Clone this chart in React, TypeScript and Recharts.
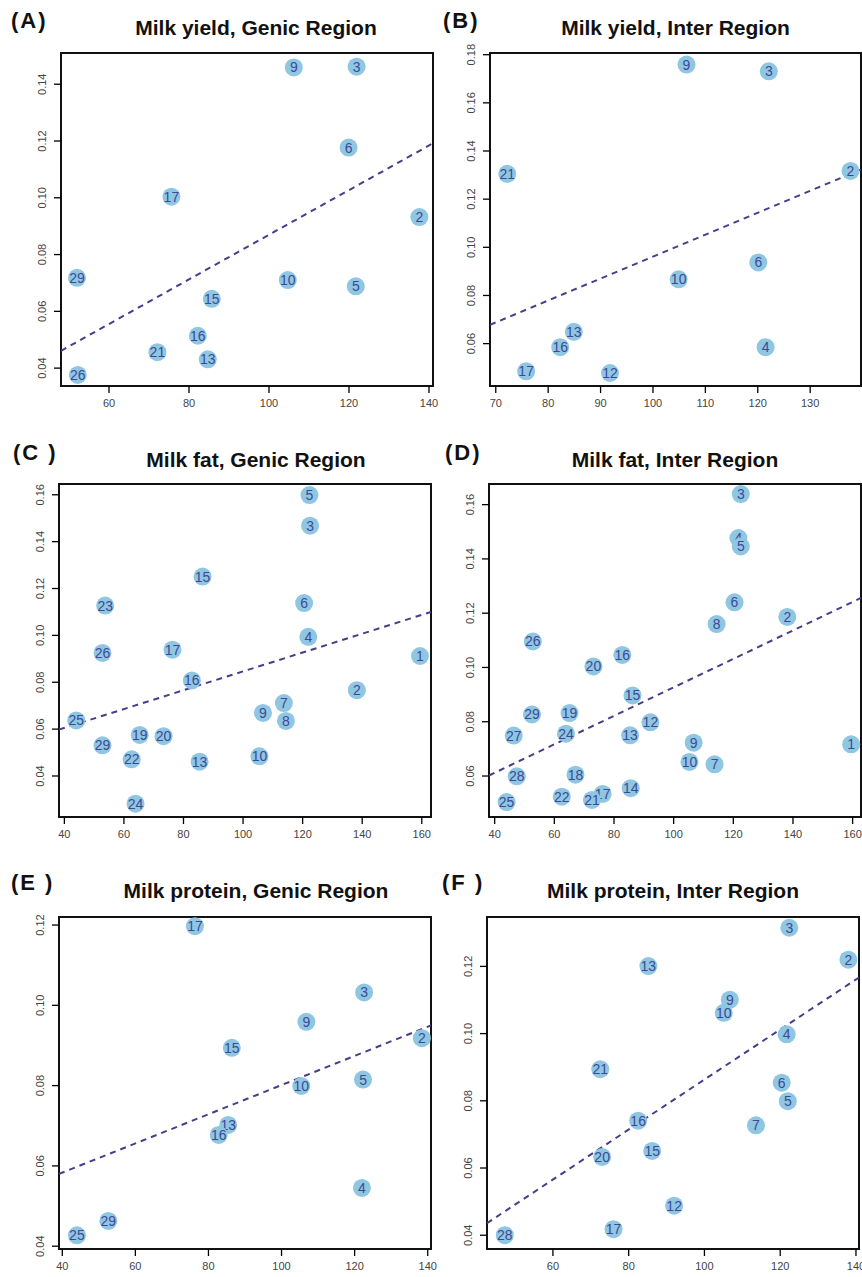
import React from 'react'
import { ScatterChart, Scatter, XAxis, YAxis, ReferenceLine, ReferenceArea } from 'recharts'

// ---- data ----
// each point: x (left axis value), y, id label

const yieldGenicIds = [9, 3, 6, 17, 2, 29, 10, 5, 15, 16, 21, 13, 26]
const yieldGenicX = [106.2, 121.9, 119.9, 75.6, 137.6, 52.0, 104.7, 121.7, 85.7, 82.2, 72.1, 84.7, 52.2]
const yieldGenicY = [0.1459, 0.1462, 0.1177, 0.1004, 0.0932, 0.0718, 0.071, 0.0688, 0.0644, 0.0514, 0.0456, 0.0431, 0.0376]
const yieldGenicFit = [[48, 0.0461], [141, 0.1192]]

const yieldInterIds = [9, 3, 21, 2, 6, 10, 13, 16, 4, 17, 12]
const yieldInterX = [106.4, 122.1, 72.2, 137.7, 120.1, 104.9, 84.9, 82.3, 121.5, 75.8, 91.8]
const yieldInterY = [0.1759, 0.1731, 0.1305, 0.1317, 0.0937, 0.0867, 0.0649, 0.0585, 0.0585, 0.0485, 0.0478]
const yieldInterFit = [[68.9, 0.0678], [139.7, 0.1323]]

const fatGenicIds = [5, 3, 15, 23, 6, 4, 26, 17, 1, 16, 2, 7, 9, 8, 25, 19, 20, 29, 22, 13, 10, 24]
const fatGenicX = [122.3, 122.5, 86.4, 53.7, 120.5, 121.9, 52.8, 76.3, 159.4, 82.8, 138.2, 113.7, 106.7, 114.4, 44.0, 65.3, 73.3, 52.8, 62.6, 85.4, 105.5, 63.9]
const fatGenicY = [0.1599, 0.1468, 0.1251, 0.1127, 0.1138, 0.0994, 0.0925, 0.0939, 0.0912, 0.0808, 0.0766, 0.0711, 0.0669, 0.0635, 0.0637, 0.0575, 0.057, 0.0531, 0.0471, 0.0461, 0.0484, 0.0282]
const fatGenicFit = [[38.2, 0.0598], [163.1, 0.11]]

const fatInterIds = [3, 4, 5, 6, 2, 8, 26, 16, 20, 15, 29, 19, 12, 27, 24, 13, 9, 1, 10, 7, 28, 18, 14, 22, 17, 21, 25]
const fatInterX = [122.5, 121.7, 122.5, 120.4, 138.1, 114.4, 52.8, 82.8, 73.1, 86.2, 52.5, 65.1, 92.2, 46.4, 63.9, 85.4, 106.7, 159.5, 105.3, 113.7, 47.4, 67.1, 85.6, 62.5, 76.2, 72.6, 44.0]
const fatInterY = [0.1639, 0.1477, 0.1446, 0.124, 0.1186, 0.116, 0.1096, 0.1046, 0.1004, 0.0897, 0.0827, 0.0832, 0.0798, 0.0749, 0.0756, 0.075, 0.0723, 0.0717, 0.0652, 0.0643, 0.0599, 0.0605, 0.0555, 0.0524, 0.0534, 0.0512, 0.0504]
const fatInterFit = [[38.1, 0.0602], [162.8, 0.1256]]

const proteinGenicIds = [17, 3, 9, 15, 2, 5, 10, 13, 16, 4, 29, 25]
const proteinGenicX = [76.3, 122.6, 106.8, 86.4, 138.4, 122.3, 105.4, 85.4, 82.8, 122.0, 52.6, 44.0]
const proteinGenicY = [0.1197, 0.1032, 0.0959, 0.0894, 0.0918, 0.0815, 0.0799, 0.0702, 0.0677, 0.0545, 0.0463, 0.0427]
const proteinGenicFit = [[39.1, 0.058], [140.9, 0.095]]

const proteinInterIds = [3, 2, 13, 9, 10, 4, 21, 6, 5, 16, 7, 15, 20, 12, 17, 28]
const proteinInterX = [122.4, 138.0, 85.2, 106.7, 105.1, 121.7, 72.5, 120.4, 122.0, 82.5, 113.6, 86.2, 73.0, 92.0, 76.0, 47.3]
const proteinInterY = [0.1315, 0.122, 0.1201, 0.1101, 0.1062, 0.0998, 0.0894, 0.0854, 0.0799, 0.0741, 0.0727, 0.0651, 0.0633, 0.0488, 0.0418, 0.04]
const proteinInterFit = [[42.6, 0.0436], [140.8, 0.1167]]

const ticks60 = [60, 80, 100, 120, 140]
const ticks40to160 = [40, 60, 80, 100, 120, 140, 160]
const ticks40to140 = [40, 60, 80, 100, 120, 140]
const ticks70 = [70, 80, 90, 100, 110, 120, 130]
const yTicksA = [0.04, 0.06, 0.08, 0.1, 0.12, 0.14]
const yTicksB = [0.06, 0.08, 0.1, 0.12, 0.14, 0.16, 0.18]
const yTicksC = [0.04, 0.06, 0.08, 0.1, 0.12, 0.14, 0.16]
const yTicksD = [0.06, 0.08, 0.1, 0.12, 0.14, 0.16]
const yTicksE = [0.04, 0.06, 0.08, 0.1, 0.12]
const yTicksF = [0.04, 0.06, 0.08, 0.1, 0.12]

const FONT = '"Liberation Sans", Arial, Helvetica, sans-serif'
const DOT = '#8FC6E1'
const DOT_TEXT = '#3D4A98'
const FIT = '#483D8B'

const toPoints = (ids: number[], xs: number[], ys: number[]) =>
  ids.map((id, i) => ({ id, x: xs[i], y: ys[i] }))

const Dot = (props: any) => {
  const { cx, cy, payload } = props
  return (
    <g>
      <circle cx={cx} cy={cy} r={9} fill={DOT} />
      <text x={cx} y={cy} dy={5} textAnchor="middle" fontSize={14} fontFamily={FONT} fill={DOT_TEXT}>
        {payload.id}
      </text>
    </g>
  )
}

const YTick = (props: any) => {
  const { x, y, payload } = props
  return (
    <text x={x} y={y} transform={`rotate(-90 ${x} ${y})`} textAnchor="middle" fontSize={11} fontFamily={FONT} fill="#444">
      {payload.value.toFixed(2)}
    </text>
  )
}

type PanelProps = {
  label: string
  title: string
  box: [number, number, number, number] // left, top, right, bottom on page
  xDomain: [number, number]
  yDomain: [number, number]
  xTicks: number[]
  yTicks: number[]
  points: { id: number; x: number; y: number }[]
  fit: number[][]
  labelX: number
  labelY: number
  titleY: number
  titleShift?: number
}

function Panel({ label, title, box, xDomain, yDomain, xTicks, yTicks, points, fit, labelX, labelY, titleY, titleShift = 0 }: PanelProps) {
  const [l, t, r, b] = box
  const padL = 48
  const padT = 20
  const padR = 16
  const padB = 34
  const w = r - l + padL + padR
  const h = b - t + padT + padB
  return (
    <>
      <div style={{ position: 'absolute', left: labelX, top: labelY, fontFamily: FONT, fontWeight: 700, fontSize: 22, letterSpacing: 2, color: '#111', whiteSpace: 'pre' }}>
        {label}
      </div>
      <div style={{ position: 'absolute', left: l - 20 + titleShift, width: r - l + 40, top: titleY, textAlign: 'center', fontFamily: FONT, fontWeight: 700, fontSize: 21, color: '#111' }}>
        {title}
      </div>
      <div style={{ position: 'absolute', left: l - padL, top: t - padT }}>
        <ScatterChart width={w} height={h} margin={{ top: padT, right: padR, left: 0, bottom: 0 }}>
          <XAxis type="number" dataKey="x" domain={xDomain} ticks={xTicks} allowDataOverflow axisLine={false}
            tickSize={7} tickMargin={6} height={padB} interval={0}
            tick={{ fontSize: 11, fill: '#444', fontFamily: FONT }} tickLine={{ stroke: '#000', strokeWidth: 1.3 }} />
          <YAxis type="number" dataKey="y" domain={yDomain} ticks={yTicks} allowDataOverflow axisLine={false}
            tickSize={7} tickMargin={8} width={padL} interval={0}
            tick={<YTick />} tickLine={{ stroke: '#000', strokeWidth: 1.3 }} />
          <ReferenceLine segment={[{ x: fit[0][0], y: fit[0][1] }, { x: fit[1][0], y: fit[1][1] }]}
            stroke={FIT} strokeWidth={2} strokeDasharray="6 5" ifOverflow="hidden" />
          <Scatter data={points} shape={<Dot />} isAnimationActive={false} />
          <ReferenceArea x1={xDomain[0]} x2={xDomain[1]} y1={yDomain[0]} y2={yDomain[1]}
            fill="none" stroke="#111" strokeWidth={2} ifOverflow="visible" />
        </ScatterChart>
      </div>
    </>
  )
}

export default function App() {
  return (
    <div style={{ position: 'absolute', left: 0, top: 0, width: 862, height: 1277, overflow: 'hidden', background: '#fff' }}>
      <Panel label="(A)" title="Milk yield, Genic Region" box={[61, 53, 433, 386]}
        xDomain={[48, 141]} yDomain={[0.0337, 0.151]} xTicks={ticks60} yTicks={yTicksA}
        points={toPoints(yieldGenicIds, yieldGenicX, yieldGenicY)} fit={yieldGenicFit}
        labelX={11} labelY={8} titleY={16} titleShift={9} />
      <Panel label="(B)" title="Milk yield, Inter Region" box={[490, 53, 861, 386]}
        xDomain={[68.9, 139.7]} yDomain={[0.0424, 0.1807]} xTicks={ticks70} yTicks={yTicksB}
        points={toPoints(yieldInterIds, yieldInterX, yieldInterY)} fit={yieldInterFit}
        labelX={443} labelY={8} titleY={16} />
      <Panel label="(C )" title="Milk fat, Genic Region" box={[59, 484, 431, 817]}
        xDomain={[38.2, 163.1]} yDomain={[0.0225, 0.1646]} xTicks={ticks40to160} yTicks={yTicksC}
        points={toPoints(fatGenicIds, fatGenicX, fatGenicY)} fit={fatGenicFit}
        labelX={13} labelY={440} titleY={448} titleShift={11} />
      <Panel label="(D)" title="Milk fat, Inter Region" box={[489, 484, 861, 817]}
        xDomain={[38.1, 162.8]} yDomain={[0.0449, 0.1676]} xTicks={ticks40to160} yTicks={yTicksD}
        points={toPoints(fatInterIds, fatInterX, fatInterY)} fit={fatInterFit}
        labelX={445} labelY={440} titleY={448} />
      <Panel label="(E )" title="Milk protein, Genic Region" box={[59, 917, 431, 1249]}
        xDomain={[39.1, 140.9]} yDomain={[0.0393, 0.122]} xTicks={ticks40to140} yTicks={yTicksE}
        points={toPoints(proteinGenicIds, proteinGenicX, proteinGenicY)} fit={proteinGenicFit}
        labelX={11} labelY={870} titleY={879} titleShift={11} />
      <Panel label="(F )" title="Milk protein, Inter Region" box={[487, 917, 859, 1249]}
        xDomain={[42.6, 140.8]} yDomain={[0.0359, 0.1347]} xTicks={ticks60} yTicks={yTicksF}
        points={toPoints(proteinInterIds, proteinInterX, proteinInterY)} fit={proteinInterFit}
        labelX={442} labelY={870} titleY={879} />
    </div>
  )
}
